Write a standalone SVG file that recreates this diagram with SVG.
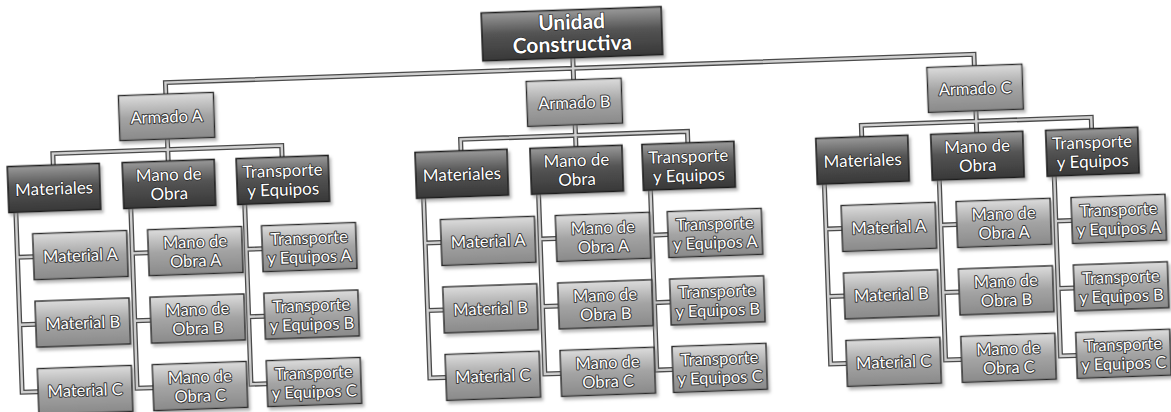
<svg xmlns="http://www.w3.org/2000/svg" width="1171" height="412" viewBox="0 0 1171 412">
<style>
text{font-family:Lato,"Liberation Sans",sans-serif;text-anchor:middle;fill:#fff;paint-order:stroke;stroke-linejoin:round}
.dk rect{fill:url(#gd);stroke:#1e1e1e;stroke-width:1.6;filter:url(#sh)}
.lt rect{fill:url(#gl);stroke:#2a2a2a;stroke-width:1.4;filter:url(#sh)}
.dk text{font-size:17px;stroke:#222;stroke-width:1.4}
.lt text{font-size:16.5px;stroke:#3a3a3a;stroke-width:2}
.top text{font-size:21px;font-weight:bold}
.co{fill:none;stroke:#4a4a4a;stroke-width:5}
.ci{fill:none;stroke:#cfcfcf;stroke-width:2.4}
</style>
<defs>
<linearGradient id="gd" x1="0" y1="0" x2="0" y2="1"><stop offset="0" stop-color="#9a9a9a"/><stop offset="0.45" stop-color="#545454"/><stop offset="1" stop-color="#383838"/></linearGradient>
<linearGradient id="gl" x1="0" y1="0" x2="0" y2="1"><stop offset="0" stop-color="#dcdcdc"/><stop offset="0.5" stop-color="#a4a4a4"/><stop offset="1" stop-color="#8a8a8a"/></linearGradient>
<filter id="sh" x="-10%" y="-10%" width="125%" height="135%"><feDropShadow dx="2" dy="3" stdDeviation="1.5" flood-color="#888" flood-opacity="0.6"/></filter>
</defs>
<rect width="1171" height="412" fill="#fff"/>
<g transform="rotate(-2 585 206)">
<g id="connectors">
<path class="co" d="M578 57.5V68M170 79.5V68H979V79.5M578 68V79.5 M170 124.5V135M55 146.5V135H284V146.5M170 135V146.5 M578 124.5V135M463 146.5V135H690V146.5M578 135V146.5 M979 124.5V135M864 146.5V135H1094V146.5M979 135V146.5 M16 192.5V372.5H32M16 237.5H32M16 305H32 M131 192.5V372.5H147M131 237.5H147M131 305H147 M245 192.5V372.5H261M245 237.5H261M245 305H261 M424 192.5V372.5H440M424 237.5H440M424 305H440 M539 192.5V372.5H555M539 237.5H555M539 305H555 M651 192.5V372.5H667M651 237.5H667M651 305H667 M825 192.5V372.5H841M825 237.5H841M825 305H841 M940 192.5V372.5H956M940 237.5H956M940 305H956 M1055 192.5V372.5H1071M1055 237.5H1071M1055 305H1071"/>
<path class="ci" d="M578 57.5V68M170 79.5V68H979V79.5M578 68V79.5 M170 124.5V135M55 146.5V135H284V146.5M170 135V146.5 M578 124.5V135M463 146.5V135H690V146.5M578 135V146.5 M979 124.5V135M864 146.5V135H1094V146.5M979 135V146.5 M16 192.5V372.5H32M16 237.5H32M16 305H32 M131 192.5V372.5H147M131 237.5H147M131 305H147 M245 192.5V372.5H261M245 237.5H261M245 305H261 M424 192.5V372.5H440M424 237.5H440M424 305H440 M539 192.5V372.5H555M539 237.5H555M539 305H555 M651 192.5V372.5H667M651 237.5H667M651 305H667 M825 192.5V372.5H841M825 237.5H841M825 305H841 M940 192.5V372.5H956M940 237.5H956M940 305H956 M1055 192.5V372.5H1071M1055 237.5H1071M1055 305H1071"/>
</g>

<g id="unidad" class="dk top"><rect x="488" y="9.5" width="180" height="48"/><text x="578" y="29">Unidad</text><text x="578" y="51">Constructiva</text></g>

<g id="armadoA" class="lt"><rect x="122.5" y="79.5" width="95" height="45"/><text x="170" y="108">Armado A</text></g>
<g id="armadoB" class="lt"><rect x="530.5" y="79.5" width="95" height="45"/><text x="578" y="108">Armado B</text></g>
<g id="armadoC" class="lt"><rect x="931.5" y="79.5" width="95" height="45"/><text x="979" y="108">Armado C</text></g>

<g id="matA" class="dk"><rect x="9" y="146.5" width="92" height="46"/><text x="55" y="176">Materiales</text></g>
<g id="manoA" class="dk"><rect x="124" y="146.5" width="92" height="46"/><text x="170" y="166">Mano de</text><text x="170" y="185">Obra</text></g>
<g id="transA" class="dk"><rect x="238" y="146.5" width="92" height="46"/><text x="284" y="166">Transporte</text><text x="284" y="185">y Equipos</text></g>
<g id="matB" class="dk"><rect x="417" y="146.5" width="92" height="46"/><text x="463" y="176">Materiales</text></g>
<g id="manoB" class="dk"><rect x="532" y="146.5" width="92" height="46"/><text x="578" y="166">Mano de</text><text x="578" y="185">Obra</text></g>
<g id="transB" class="dk"><rect x="644" y="146.5" width="92" height="46"/><text x="690" y="166">Transporte</text><text x="690" y="185">y Equipos</text></g>
<g id="matC" class="dk"><rect x="818" y="146.5" width="92" height="46"/><text x="864" y="176">Materiales</text></g>
<g id="manoC" class="dk"><rect x="933" y="146.5" width="92" height="46"/><text x="979" y="166">Mano de</text><text x="979" y="185">Obra</text></g>
<g id="transC" class="dk"><rect x="1048" y="146.5" width="92" height="46"/><text x="1094" y="166">Transporte</text><text x="1094" y="185">y Equipos</text></g>

<g id="a-matA" class="lt"><rect x="32" y="214.5" width="94" height="46"/><text x="79" y="243.5">Material A</text></g>
<g id="a-matB" class="lt"><rect x="32" y="282" width="94" height="46"/><text x="79" y="311">Material B</text></g>
<g id="a-matC" class="lt"><rect x="32" y="349.5" width="94" height="46"/><text x="79" y="378.5">Material C</text></g>
<g id="a-manoA" class="lt"><rect x="147" y="214.5" width="94" height="46"/><text x="194" y="234">Mano de</text><text x="194" y="253">Obra A</text></g>
<g id="a-manoB" class="lt"><rect x="147" y="282" width="94" height="46"/><text x="194" y="301.5">Mano de</text><text x="194" y="320.5">Obra B</text></g>
<g id="a-manoC" class="lt"><rect x="147" y="349.5" width="94" height="46"/><text x="194" y="369">Mano de</text><text x="194" y="388">Obra C</text></g>
<g id="a-transA" class="lt"><rect x="261" y="214.5" width="94" height="46"/><text x="308" y="234">Transporte</text><text x="308" y="253">y Equipos A</text></g>
<g id="a-transB" class="lt"><rect x="261" y="282" width="94" height="46"/><text x="308" y="301.5">Transporte</text><text x="308" y="320.5">y Equipos B</text></g>
<g id="a-transC" class="lt"><rect x="261" y="349.5" width="94" height="46"/><text x="308" y="369">Transporte</text><text x="308" y="388">y Equipos C</text></g>

<g id="b-matA" class="lt"><rect x="440" y="214.5" width="94" height="46"/><text x="487" y="243.5">Material A</text></g>
<g id="b-matB" class="lt"><rect x="440" y="282" width="94" height="46"/><text x="487" y="311">Material B</text></g>
<g id="b-matC" class="lt"><rect x="440" y="349.5" width="94" height="46"/><text x="487" y="378.5">Material C</text></g>
<g id="b-manoA" class="lt"><rect x="555" y="214.5" width="94" height="46"/><text x="602" y="234">Mano de</text><text x="602" y="253">Obra A</text></g>
<g id="b-manoB" class="lt"><rect x="555" y="282" width="94" height="46"/><text x="602" y="301.5">Mano de</text><text x="602" y="320.5">Obra B</text></g>
<g id="b-manoC" class="lt"><rect x="555" y="349.5" width="94" height="46"/><text x="602" y="369">Mano de</text><text x="602" y="388">Obra C</text></g>
<g id="b-transA" class="lt"><rect x="667" y="214.5" width="94" height="46"/><text x="714" y="234">Transporte</text><text x="714" y="253">y Equipos A</text></g>
<g id="b-transB" class="lt"><rect x="667" y="282" width="94" height="46"/><text x="714" y="301.5">Transporte</text><text x="714" y="320.5">y Equipos B</text></g>
<g id="b-transC" class="lt"><rect x="667" y="349.5" width="94" height="46"/><text x="714" y="369">Transporte</text><text x="714" y="388">y Equipos C</text></g>

<g id="c-matA" class="lt"><rect x="841" y="214.5" width="94" height="46"/><text x="888" y="243.5">Material A</text></g>
<g id="c-matB" class="lt"><rect x="841" y="282" width="94" height="46"/><text x="888" y="311">Material B</text></g>
<g id="c-matC" class="lt"><rect x="841" y="349.5" width="94" height="46"/><text x="888" y="378.5">Material C</text></g>
<g id="c-manoA" class="lt"><rect x="956" y="214.5" width="94" height="46"/><text x="1003" y="234">Mano de</text><text x="1003" y="253">Obra A</text></g>
<g id="c-manoB" class="lt"><rect x="956" y="282" width="94" height="46"/><text x="1003" y="301.5">Mano de</text><text x="1003" y="320.5">Obra B</text></g>
<g id="c-manoC" class="lt"><rect x="956" y="349.5" width="94" height="46"/><text x="1003" y="369">Mano de</text><text x="1003" y="388">Obra C</text></g>
<g id="c-transA" class="lt"><rect x="1071" y="214.5" width="94" height="46"/><text x="1118" y="234">Transporte</text><text x="1118" y="253">y Equipos A</text></g>
<g id="c-transB" class="lt"><rect x="1071" y="282" width="94" height="46"/><text x="1118" y="301.5">Transporte</text><text x="1118" y="320.5">y Equipos B</text></g>
<g id="c-transC" class="lt"><rect x="1071" y="349.5" width="94" height="46"/><text x="1118" y="369">Transporte</text><text x="1118" y="388">y Equipos C</text></g>
</g>
</svg>
